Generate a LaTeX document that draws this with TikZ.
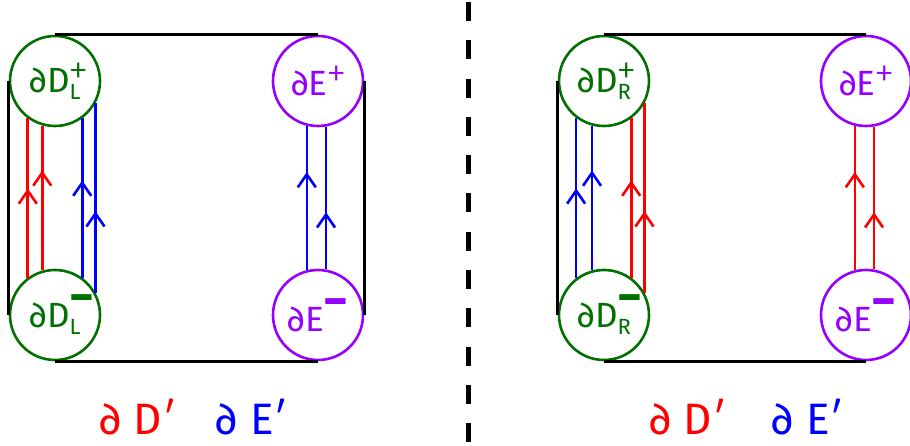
\documentclass[tikz,border=0pt]{standalone}
\usepackage{graphicx}
\usepackage{fontspec}
\setmainfont{Fira Sans}
\newfontfamily\primefont{Lato}
\usepackage{xcolor}
\usetikzlibrary{arrows.meta,decorations.markings}

\definecolor{dgreen}{RGB}{0,112,0}
\definecolor{epurple}{RGB}{150,0,255}

% prime and index helpers
\newcommand{\prm}{{\primefont ′}}
\newcommand{\negbar}{\raisebox{14pt}{\scalebox{2.0}[2.0]{\fontsize{24}{24}\selectfont\bfseries −}}}
\newcommand{\possign}{\raisebox{12pt}{\primefont\fontsize{30}{30}\selectfont +}}
\newcommand{\pmidx}[2]{\rlap{#1}\raisebox{-7pt}{\fontsize{22}{22}\selectfont #2}}

\begin{document}
\begin{tikzpicture}[x=1pt,y=-1pt,
		bnd/.style={circle,draw,line width=2.6pt,minimum size=90pt,inner sep=0pt,font=\fontsize{35}{37}\selectfont},
		dbnd/.style={bnd,draw=dgreen,text=dgreen},
		ebnd/.style={bnd,draw=epurple,text=epurple},
		side/.style={line width=2.6pt},
		upat/.style={line width=2.6pt,postaction={decorate},decoration={markings,mark=at position #1 with {\arrow{Straight Barb[length=13pt,width=18pt]}}}},
		lbl/.style={font=\fontsize{44}{48}\selectfont}]
		\useasboundingbox (0,0) rectangle (910,446);
		% left half
		\node[dbnd] (DLp) at (55,81) {∂D\pmidx{\possign}{L}};
		\node[dbnd] (DLm) at (55,315) {∂D\pmidx{\negbar}{L}};
		\node[ebnd] (ELp) at (318,81) {∂E\possign};
		\node[ebnd] (ELm) at (318,315) {∂E\negbar};
		%
		\draw[side] (DLp.north) -- (ELp.north) (DLp.west) -- (DLm.west)
		(ELp.east) -- (ELm.east) (DLm.south) -- (ELm.south);
		%
		\path[red]
		(DLm.126) edge[upat=0.56] (DLp.-126)
		(DLm.106.5) edge[upat=0.69] (DLp.-106.5);
		\path[blue]
		(DLm.54) edge[upat=0.61] (DLp.-54)
		(DLm.29) edge[upat=0.43] (DLp.-29)
		(ELm.104) edge[upat=0.68] (ELp.-104)
		(ELm.80) edge[upat=0.40] (ELp.-80);
		%
		\node[lbl,red] (dDL) at (138,417) {∂ D\prm};
		\node[lbl,blue] (dEL) at (252,417) {∂ E\prm};
		% separator
		\coordinate (sepT) at (468,2);
		\coordinate (sepB) at (468,446);
		\draw[line width=5pt,dash pattern=on 19pt off 19.3pt] (sepT) -- (sepB);
		% right half
		\node[dbnd] (DRp) at (604,81) {∂D\pmidx{\possign}{R}};
		\node[dbnd] (DRm) at (604,315) {∂D\pmidx{\negbar}{R}};
		\node[ebnd] (ERp) at (866,81) {∂E\possign};
		\node[ebnd] (ERm) at (866,315) {∂E\negbar};
		%
		\draw[side] (DRp.north) -- (ERp.north) (DRp.west) -- (DRm.west)
		(ERp.east) -- (ERm.east) (DRm.south) -- (ERm.south);
		%
		\path[blue]
		(DRm.127.8) edge[upat=0.56] (DRp.-127.8)
		(DRm.105.2) edge[upat=0.69] (DRp.-105.2);
		\path[red]
		(DRm.54) edge[upat=0.61] (DRp.-54)
		(DRm.29) edge[upat=0.43] (DRp.-29)
		(ERm.104) edge[upat=0.68] (ERp.-104)
		(ERm.80) edge[upat=0.40] (ERp.-80);
		%
		\node[lbl,red] (dDR) at (688,417) {∂ D\prm};
		\node[lbl,blue] (dER) at (808,417) {∂ E\prm};
	\end{tikzpicture}
\end{document}
